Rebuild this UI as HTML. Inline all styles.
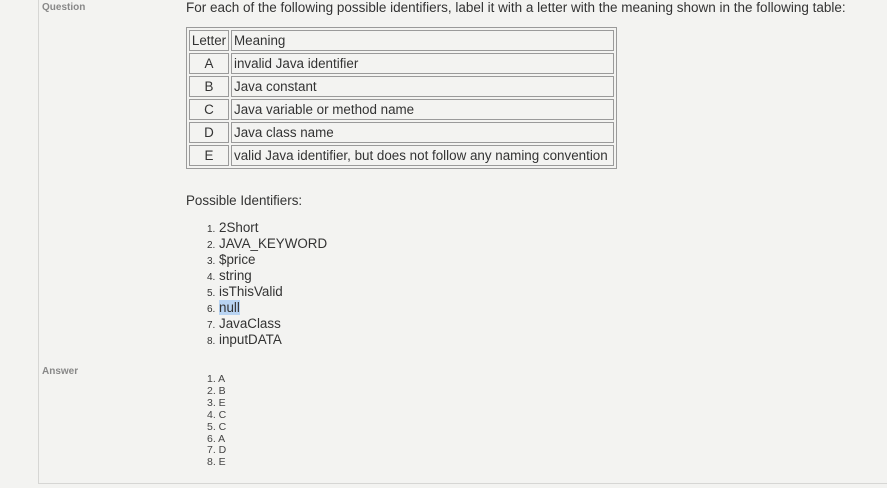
<!DOCTYPE html>
<html><head><meta charset="utf-8"><style>
body{margin:0;width:887px;height:488px;background:#f3f3f1;font-family:"Liberation Sans",sans-serif;color:#333;position:relative;overflow:hidden}
.a{position:absolute;white-space:nowrap}
.lbl{font-size:10px;font-weight:bold;color:#888;left:42px}
.frame{position:absolute;left:38px;top:0;width:860px;height:483px;border-left:1px solid #d6d6d4;border-bottom:1px solid #d6d6d4}
table{position:absolute;left:186px;top:27px;border:1px solid #9a9a9a;border-spacing:2px;font-size:13.4px;color:#333}
td{border:1px solid #9a9a9a;height:19px;padding:0 2px;line-height:19px}
td.c{text-align:center;width:38px;padding:0}
.li{font-size:13.4px;left:207px}
.li div{height:16px;line-height:16px}
.li span{font-size:10px;display:inline-block;width:12px}
.ans{font-size:10.5px;line-height:11.9px;left:207px;color:#444}
</style></head><body>
<div class="frame"></div>
<div class="a lbl" style="top:2px">Question</div>
<div class="a lbl" style="top:366px">Answer</div>
<div class="a" style="left:186px;top:0;font-size:13.5px;line-height:16px">For each of the following possible identifiers, label it with a letter with the meaning shown in the following table:</div>
<table>
<tr><td class="c">Letter</td><td style="width:377px">Meaning</td></tr>
<tr><td class="c">A</td><td>invalid Java identifier</td></tr>
<tr><td class="c">B</td><td>Java constant</td></tr>
<tr><td class="c">C</td><td>Java variable or method name</td></tr>
<tr><td class="c">D</td><td>Java class name</td></tr>
<tr><td class="c">E</td><td>valid Java identifier, but does not follow any naming convention</td></tr>
</table>
<div class="a" style="left:186px;top:193px;font-size:13.4px">Possible Identifiers:</div>
<div class="a li" style="top:220px">
<div><span>1.</span>2Short</div>
<div><span>2.</span>JAVA_KEYWORD</div>
<div><span>3.</span>$price</div>
<div><span>4.</span>string</div>
<div><span>5.</span>isThisValid</div>
<div><span>6.</span><b style="font-weight:normal;background:#b9d4f2">null</b></div>
<div><span>7.</span>JavaClass</div>
<div><span>8.</span>inputDATA</div>
</div>
<div class="a ans" style="top:374px">1. A<br>2. B<br>3. E<br>4. C<br>5. C<br>6. A<br>7. D<br>8. E</div>
</body></html>
